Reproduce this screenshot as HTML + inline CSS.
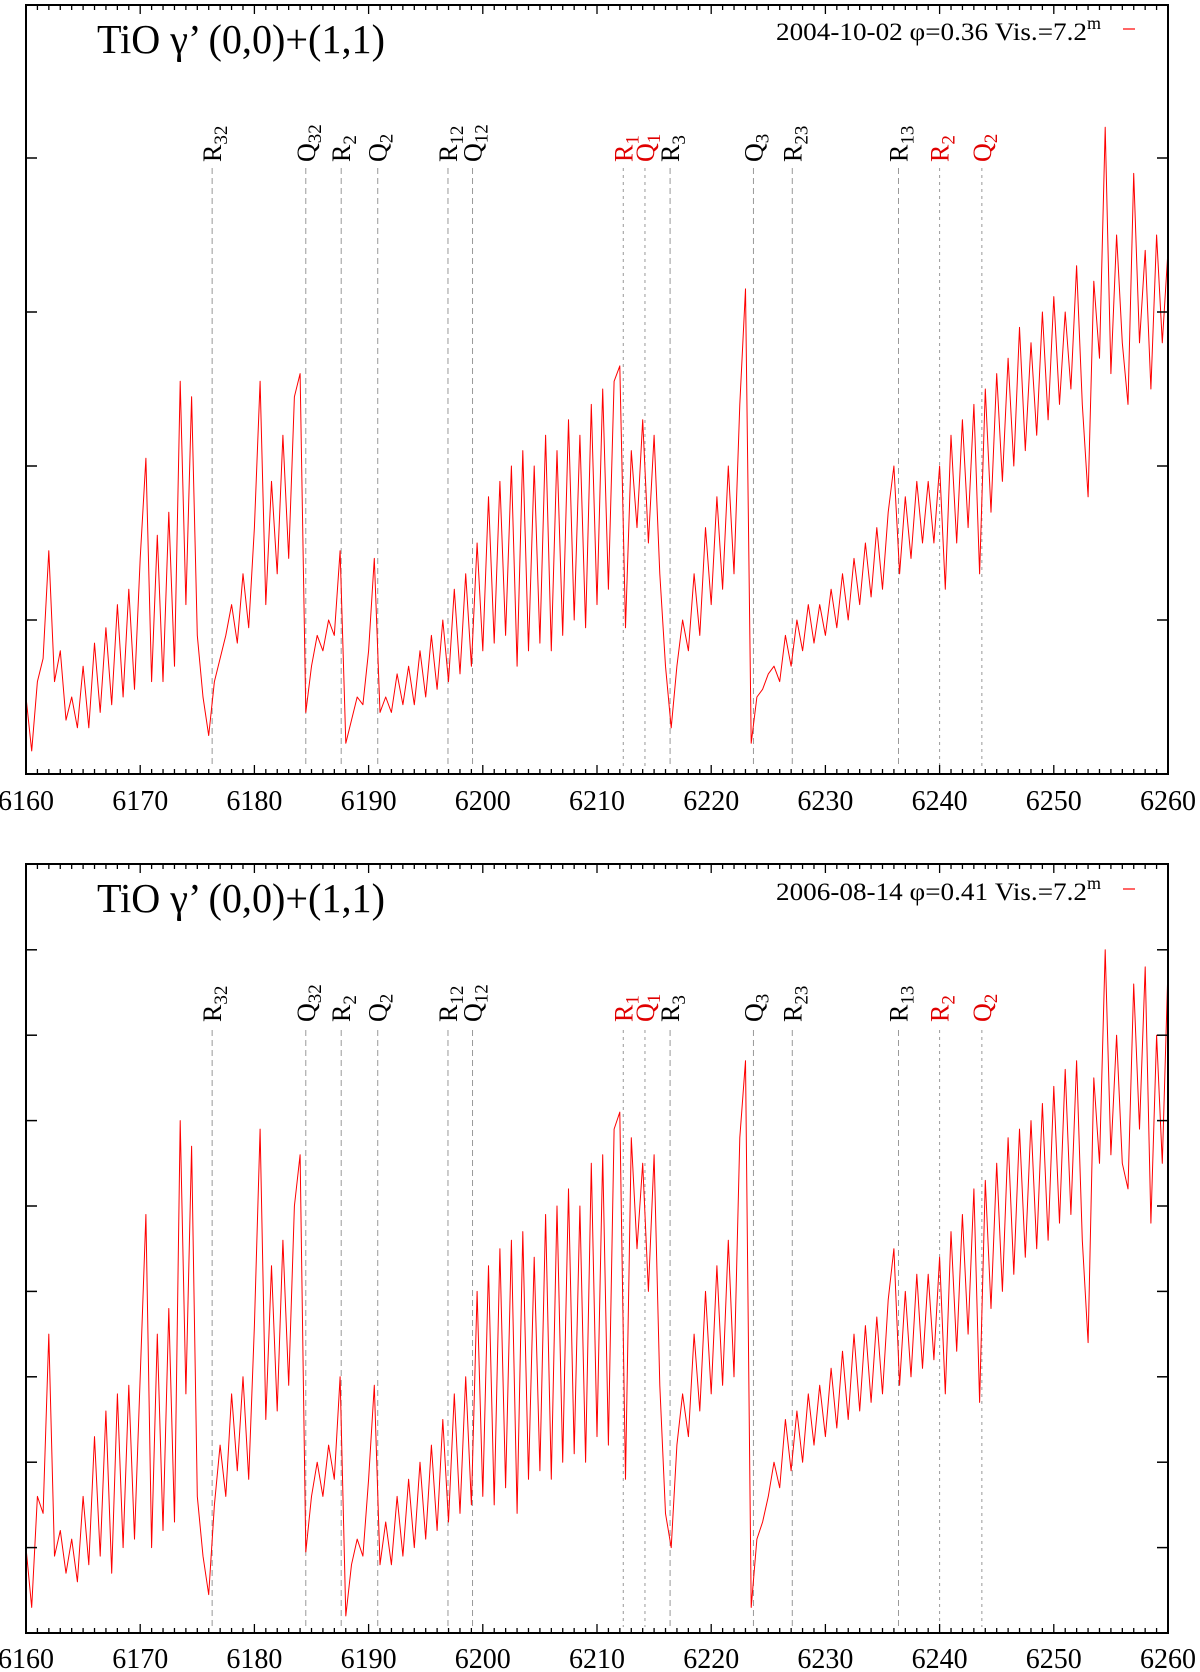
<!DOCTYPE html>
<html><head><meta charset="utf-8"><style>
html,body{margin:0;padding:0;background:#fff;}
svg{display:block;font-family:"Liberation Serif",serif;}
</style></head><body>
<svg id="chart" width="1200" height="1672" viewBox="0 0 1200 1672" xmlns="http://www.w3.org/2000/svg"></svg>
<script>
const lambdaStart = 6160;
const lambdaStep = 0.5;
const xTickLabels = [6160, 6170, 6180, 6190, 6200, 6210, 6220, 6230, 6240, 6250, 6260];
const lineIds = ["R32","Q32","R2","Q2","R12","Q12","R1","Q1","R3","Q3","R23","R13","R2b","Q2b"];
const lineLetters = ["R","Q","R","Q","R","Q","R","Q","R","Q","R","R","R","Q"];
const lineSubs = ["32","32","2","2","12","12","1","1","3","3","23","13","2","2"];
const lineWavelengths = [6176.3,6184.5,6187.6,6190.8,6196.95,6199.1,6212.3,6214.2,6216.4,6223.7,6227.1,6236.4,6240.0,6243.7];
const lineRed = [0,0,0,0,0,0,1,1,0,0,0,0,1,1];
const fluxTop = [
0.5,0.15,0.6,0.75,1.45,0.6,0.8,0.35,0.5,0.3,0.7,0.3,0.85,0.4,0.95,0.45,1.1,0.5,1.2,0.55,
1.4,2.05,0.6,1.55,0.6,1.7,0.7,2.55,1.1,2.45,0.9,0.5,0.25,0.6,0.75,0.9,1.1,0.85,1.3,0.95,
1.6,2.55,1.1,1.9,1.3,2.2,1.4,2.45,2.6,0.4,0.7,0.9,0.8,1.0,0.9,1.45,0.2,0.35,0.5,0.45,
0.8,1.4,0.4,0.5,0.4,0.65,0.45,0.7,0.45,0.8,0.5,0.9,0.55,1.0,0.6,1.2,0.65,1.3,0.7,1.5,
0.8,1.8,0.85,1.9,0.9,2.0,0.7,2.1,0.8,2.0,0.85,2.2,0.8,2.1,0.9,2.3,1.0,2.2,0.95,2.4,
1.1,2.5,1.2,2.55,2.65,0.95,2.1,1.6,2.3,1.5,2.2,1.3,0.7,0.3,0.7,1.0,0.8,1.3,0.9,1.6,
1.1,1.8,1.2,2.0,1.3,2.4,3.15,0.2,0.5,0.55,0.65,0.7,0.6,0.9,0.7,1.0,0.8,1.1,0.85,1.1,
0.9,1.2,0.95,1.3,1.0,1.4,1.1,1.5,1.15,1.6,1.2,1.7,2.0,1.3,1.8,1.4,1.9,1.5,1.9,1.5,
2.0,1.2,2.2,1.5,2.3,1.6,2.4,1.3,2.5,1.7,2.6,1.9,2.7,2.0,2.9,2.1,2.8,2.2,3.0,2.3,
3.1,2.4,3.0,2.5,3.3,2.4,1.8,3.2,2.7,4.2,2.6,3.5,2.8,2.4,3.9,2.8,3.4,2.5,3.5,2.8,3.4];
const fluxBottom = [
1.0,0.3,1.6,1.4,3.5,0.9,1.2,0.7,1.1,0.6,1.6,0.8,2.3,0.9,2.6,0.7,2.8,1.0,2.9,1.1,
3.0,4.9,1.0,3.5,1.2,3.8,1.3,6.0,2.8,5.7,1.6,0.9,0.45,1.5,2.2,1.6,2.8,1.9,3.0,1.8,
3.6,5.9,2.5,4.3,2.6,4.6,2.9,5.0,5.6,0.95,1.6,2.0,1.6,2.2,1.8,3.0,0.2,0.8,1.1,0.9,
1.8,2.9,0.8,1.3,0.8,1.6,0.9,1.8,1.0,2.0,1.1,2.2,1.2,2.5,1.3,2.8,1.4,3.0,1.5,4.0,
1.6,4.3,1.5,4.5,1.7,4.6,1.4,4.7,1.8,4.4,1.9,4.9,1.8,5.0,2.0,5.2,2.1,5.0,2.0,5.5,
2.3,5.6,2.2,5.9,6.1,1.8,5.8,4.5,5.5,4.0,5.6,2.9,1.4,1.0,2.2,2.8,2.3,3.5,2.6,4.0,
2.8,4.3,2.9,4.6,3.0,5.8,6.7,0.3,1.1,1.3,1.6,2.0,1.7,2.5,1.9,2.6,2.0,2.8,2.2,2.9,
2.3,3.1,2.4,3.3,2.5,3.5,2.6,3.6,2.7,3.7,2.8,3.9,4.5,2.9,4.0,3.0,4.2,3.1,4.2,3.2,
4.4,2.8,4.7,3.3,4.9,3.5,5.2,2.7,5.3,3.8,5.5,4.0,5.8,4.2,5.9,4.4,6.0,4.5,6.2,4.6,
6.4,4.8,6.6,4.9,6.7,4.6,3.4,6.5,5.5,8.0,5.6,7.0,5.5,5.2,7.6,5.9,7.8,4.8,7.0,5.5,7.8];

const NS = "http://www.w3.org/2000/svg";
const svg = document.getElementById("chart");
function mk(tag, attrs, parent){
  const e = document.createElementNS(NS, tag);
  for (const k in attrs) e.setAttribute(k, attrs[k]);
  (parent||svg).appendChild(e);
  return e;
}
const X0 = 26, X1 = 1168, LMIN = 6160, LMAX = 6260;
function xScale(l){ return X0 + (l - LMIN) * (X1 - X0) / (LMAX - LMIN); }

const panels = [
  {name:"top", top:5, bottom:774, unit:154, nTicks:4, flux:fluxTop, date:"2004-10-02 φ=0.36 Vis.=7.2", titleY:53, legY:40, labY:162, lineTop:168, xlabY:810},
  {name:"bottom", top:864, bottom:1633, unit:85.4, nTicks:8, flux:fluxBottom, date:"2006-08-14 φ=0.41 Vis.=7.2", titleY:912, legY:900, labY:1022, lineTop:1030, xlabY:1668}
];

panels.forEach(p => {
  const g = mk("g", {});
  
  
  const yScale = v => p.bottom - v * p.unit;

  lineWavelengths.forEach((lw, i) => {
    const x = xScale(lw);
    const ln = mk("line", {x1:x, x2:x, y1:p.lineTop, y2:p.bottom-6, stroke:"#999", "stroke-width":1, "stroke-dasharray": lineRed[i] ? "3,4" : "6,4"}, g);
    
    
    const t = mk("text", {x:0, y:0, transform:`translate(${x+9},${p.labY}) rotate(-90)`, "font-size":26, fill: lineRed[i] ? "#e00000" : "#000"}, g);
    
    
    t.textContent = lineLetters[i];
    const s = mk("tspan", {"font-size":19, dy:6}, t);
    s.textContent = lineSubs[i];
  });

  let d = "";
  p.flux.forEach((v, i) => {
    const x = xScale(lambdaStart + i * lambdaStep);
    d += (i ? "L" : "M") + x.toFixed(1) + "," + yScale(v).toFixed(1);
  });
  const path = mk("path", {d:d, fill:"none", stroke:"#ff0000", "stroke-width":1, "stroke-linejoin":"round"}, g);
  
  

  const fr = mk("rect", {x:X0, y:p.top, width:X1-X0, height:p.bottom-p.top, fill:"none", stroke:"#000", "stroke-width":2}, g);
  
  

  for (let l = LMIN; l <= LMAX; l++) {
    const x = xScale(l), major = (l % 10 === 0), len = major ? 9 : 5;
    mk("line", {x1:x, x2:x, y1:p.bottom, y2:p.bottom-len, stroke:"#000", "stroke-width":1.3}, g);
    mk("line", {x1:x, x2:x, y1:p.top, y2:p.top+len, stroke:"#000", "stroke-width":1.3}, g);
  }
  xTickLabels.forEach(l => {
    const t = mk("text", {x:xScale(l), y:p.xlabY, "font-size":28, "text-anchor":"middle", "font-family":"Liberation Serif, serif"}, g);
    
    
    t.textContent = l;
  });
  for (let k = 1; k <= p.nTicks; k++) {
    const y = yScale(k);
    mk("line", {x1:X0, x2:X0+11, y1:y, y2:y, stroke:"#000", "stroke-width":1.5}, g);
    mk("line", {x1:X1, x2:X1-11, y1:y, y2:y, stroke:"#000", "stroke-width":1.5}, g);
  }
  const tt = mk("text", {x:97, y:p.titleY, "font-size":41, textLength:288, lengthAdjust:"spacingAndGlyphs"}, g);
  
  
  tt.textContent = "TiO γ’ (0,0)+(1,1)";
  const lg = mk("text", {x:776, y:p.legY, "font-size":25}, g);
  
  
  const lt = mk("tspan", {textLength:311, lengthAdjust:"spacingAndGlyphs"}, lg);
  lt.textContent = p.date;
  const sup = mk("tspan", {"font-size":18, dy:-11}, lg);
  sup.textContent = "m";
  const sw = mk("line", {x1:1123, x2:1135, y1:p.legY-11, y2:p.legY-11, stroke:"#ff0000", "stroke-width":1.2}, g);
  
  
});
</script>
</body></html>
